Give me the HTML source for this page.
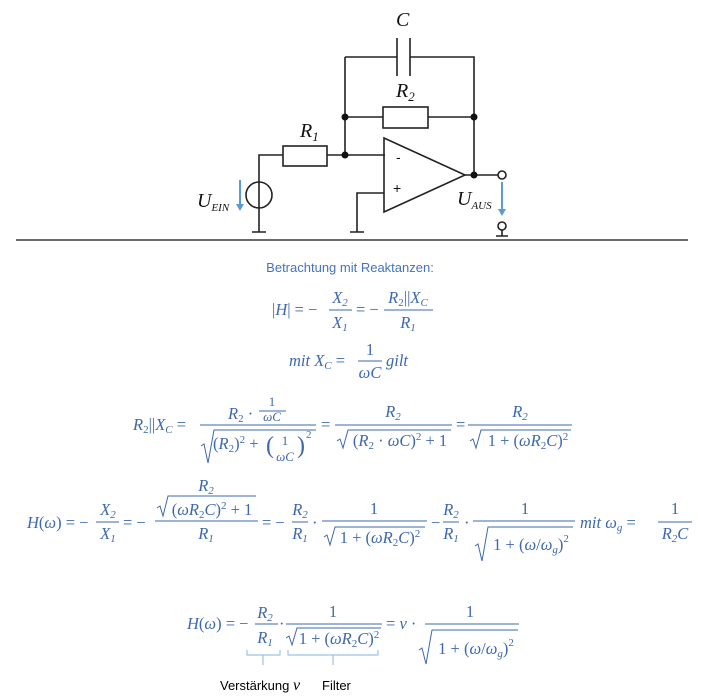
<!DOCTYPE html>
<html><head><meta charset="utf-8"><style>
html,body{margin:0;padding:0;background:#fff}
svg{display:block}
.m{font-family:"Liberation Serif",serif;font-size:16.5px;fill:#3e68ad}
.i{font-style:italic}
.s{font-size:11px}
.t{font-family:"Liberation Sans",sans-serif;font-size:13px;fill:#4472c4}
.k{font-family:"Liberation Sans",sans-serif;font-size:13px;fill:#000}
.w{stroke:#222;stroke-width:1.6;fill:none}
.b{stroke:#3e68ad;stroke-width:1;fill:none}
.br{stroke:#9dc3e6;stroke-width:1.2;fill:none}
</style></head><body>
<svg width="705" height="697" viewBox="0 0 705 697" xmlns="http://www.w3.org/2000/svg">
<!-- circuit -->
<g class="w">
<path d="M345 57H397M410 57H474V175M345 57V155"/>
<path d="M397 38V76M410 38V76"/>
<path d="M345 117H383M428 117H474"/>
<rect x="383" y="107" width="45" height="21"/>
<path d="M259 182V155H283M327 155H385"/>
<rect x="283" y="146" width="44" height="20"/>
<circle cx="259" cy="195" r="13"/>
<path d="M259 182V232M252 232H266"/>
<path d="M384 138L465 175L384 212Z"/>
<path d="M384 193H357V232M350 232H364"/>
<path d="M465 175H498"/>
<circle cx="502" cy="175" r="4"/>
<circle cx="502" cy="226" r="4"/>
<path d="M502 230V236M496 236H508"/>
</g>
<g fill="#111">
<circle cx="345" cy="117" r="3.5"/><circle cx="474" cy="117" r="3.5"/>
<circle cx="345" cy="155" r="3.5"/><circle cx="474" cy="175" r="3.5"/>
</g>
<g stroke="#5b9bd5" stroke-width="2" fill="#5b9bd5">
<path d="M240 180V206"/><path d="M236 204L240 211L244 204Z" stroke="none"/>
<path d="M502 182V211"/><path d="M498 209L502 216L506 209Z" stroke="none"/>
</g>
<g font-family="Liberation Serif,serif" font-style="italic" font-size="20" fill="#111">
<text x="396" y="26">C</text>
<text x="396" y="97">R<tspan font-size="13" dy="4">2</tspan></text>
<text x="300" y="137">R<tspan font-size="13" dy="4">1</tspan></text>
<text x="396" y="162" font-style="normal" font-family="Liberation Sans,sans-serif" font-size="14">-</text>
<text x="393" y="193" font-style="normal" font-family="Liberation Sans,sans-serif" font-size="14">+</text>
<text x="197" y="207">U<tspan font-size="11" dy="4">EIN</tspan></text>
<text x="457" y="205">U<tspan font-size="11" dy="4">AUS</tspan></text>
</g>
<path d="M16 240H688" stroke="#111" stroke-width="1.2"/>

<text class="t" x="350" y="272" text-anchor="middle">Betrachtung mit Reaktanzen:</text>

<!-- eq1 -->
<g class="m">
<text x="272" y="315">|<tspan class="i">H</tspan>| = −</text>
<text x="340" y="303" class="i" text-anchor="middle">X<tspan class="s" dy="3">2</tspan></text>
<text x="340" y="328" class="i" text-anchor="middle">X<tspan class="s" dy="3">1</tspan></text>
<text x="356" y="315">= −</text>
<text x="408" y="303" text-anchor="middle"><tspan class="i">R</tspan><tspan class="s" dy="3">2</tspan><tspan dy="-3">||</tspan><tspan class="i">X</tspan><tspan class="s i" dy="3">C</tspan></text>
<text x="408" y="328" class="i" text-anchor="middle">R<tspan class="s" dy="3">1</tspan></text>
</g>
<path class="b" d="M329 310H352M384 310H433"/>

<!-- eq2 -->
<g class="m">
<text x="289" y="366"><tspan class="i">mit X</tspan><tspan class="s i" dy="3">C</tspan><tspan dy="-3"> = </tspan></text>
<text x="370" y="355" text-anchor="middle">1</text>
<text x="370" y="378" class="i" text-anchor="middle">ωC</text>
<text x="386" y="366" class="i">gilt</text>
</g>
<path class="b" d="M358 361H382"/>

<!-- eq3 -->
<g class="m">
<text x="133" y="430"><tspan class="i">R</tspan><tspan class="s" dy="3">2</tspan><tspan dy="-3">||</tspan><tspan class="i">X</tspan><tspan class="s i" dy="3">C</tspan><tspan dy="-3"> =</tspan></text>
<text x="228" y="419"><tspan class="i">R</tspan><tspan class="s" dy="3">2</tspan><tspan dy="-3"> ·</tspan></text>
<text x="272" y="406" font-size="13" text-anchor="middle">1</text>
<text x="272" y="421" class="i" font-size="13" text-anchor="middle">ωC</text>
<text x="213" y="449">(<tspan class="i">R</tspan><tspan class="s" dy="3">2</tspan><tspan dy="-3">)</tspan><tspan class="s" dy="-6">2</tspan><tspan dy="6"> +</tspan></text>
<text x="266" y="453" font-size="24">(</text>
<text x="285" y="445" font-size="13" text-anchor="middle">1</text>
<text x="285" y="461" class="i" font-size="13" text-anchor="middle">ωC</text>
<text x="297" y="453" font-size="24">)</text>
<text x="306" y="438" class="s">2</text>
<text x="321" y="430">=</text>
<text x="393" y="417" class="i" text-anchor="middle">R<tspan class="s" dy="3">2</tspan></text>
<text x="400" y="446" text-anchor="middle">(<tspan class="i">R</tspan><tspan class="s" dy="3">2</tspan><tspan dy="-3"> · </tspan><tspan class="i">ωC</tspan>)<tspan class="s" dy="-6">2</tspan><tspan dy="6"> + 1</tspan></text>
<text x="456" y="430">=</text>
<text x="520" y="417" class="i" text-anchor="middle">R<tspan class="s" dy="3">2</tspan></text>
<text x="528" y="446" text-anchor="middle">1 + (<tspan class="i">ωR</tspan><tspan class="s" dy="3">2</tspan><tspan class="i" dy="-3">C</tspan>)<tspan class="s" dy="-6">2</tspan></text>
</g>
<path class="b" d="M200 425H316M259 411H286M335 425H452M468 425H572"/>
<path class="b" d="M201 446L204 444L208 463L214 430H316"/>
<path class="b" d="M337 441L340 439L343 448L348 430H451"/>
<path class="b" d="M470 441L473 439L476 448L481 430H571"/>

<!-- eq4 -->
<g class="m">
<text x="27" y="528"><tspan class="i">H</tspan>(<tspan class="i">ω</tspan>) = −</text>
<text x="108" y="515" class="i" text-anchor="middle">X<tspan class="s" dy="3">2</tspan></text>
<text x="108" y="539" class="i" text-anchor="middle">X<tspan class="s" dy="3">1</tspan></text>
<text x="123" y="528">= −</text>
<text x="206" y="491" class="i" text-anchor="middle">R<tspan class="s" dy="3">2</tspan></text>
<text x="212" y="515" text-anchor="middle">(<tspan class="i">ωR</tspan><tspan class="s" dy="3">2</tspan><tspan class="i" dy="-3">C</tspan>)<tspan class="s" dy="-6">2</tspan><tspan dy="6"> + 1</tspan></text>
<text x="206" y="539" class="i" text-anchor="middle">R<tspan class="s" dy="3">1</tspan></text>
<text x="262" y="528">= −</text>
<text x="300" y="515" class="i" text-anchor="middle">R<tspan class="s" dy="3">2</tspan></text>
<text x="300" y="539" class="i" text-anchor="middle">R<tspan class="s" dy="3">1</tspan></text>
<text x="312" y="528">·</text>
<text x="374" y="514" text-anchor="middle">1</text>
<text x="380" y="543" text-anchor="middle">1 + (<tspan class="i">ωR</tspan><tspan class="s" dy="3">2</tspan><tspan class="i" dy="-3">C</tspan>)<tspan class="s" dy="-6">2</tspan></text>
<text x="431" y="528">−</text>
<text x="451" y="515" class="i" text-anchor="middle">R<tspan class="s" dy="3">2</tspan></text>
<text x="451" y="539" class="i" text-anchor="middle">R<tspan class="s" dy="3">1</tspan></text>
<text x="464" y="528">·</text>
<text x="525" y="514" text-anchor="middle">1</text>
<text x="531" y="550" text-anchor="middle">1 + (<tspan class="i">ω</tspan>/<tspan class="i">ω</tspan><tspan class="s i" dy="3">g</tspan><tspan dy="-3">)</tspan><tspan class="s" dy="-8">2</tspan></text>
<text x="580" y="528" class="i">mit ω<tspan class="s" dy="3">g</tspan><tspan dy="-3" font-style="normal"> =</tspan></text>
<text x="675" y="514" text-anchor="middle">1</text>
<text x="675" y="539" class="i" text-anchor="middle">R<tspan class="s" dy="3">2</tspan><tspan dy="-3">C</tspan></text>
</g>
<path class="b" d="M96 522H119M155 521H258M292 522H308M322 521H427M443 522H459M473 521H575M658 522H692"/>
<path class="b" d="M157 508L160 506L163 516L168 496H256"/>
<path class="b" d="M324 537L327 535L330 545L335 527H425"/>
<path class="b" d="M475 546L478 544L482 561L488 527H573"/>

<!-- eq5 -->
<g class="m">
<text x="187" y="629"><tspan class="i">H</tspan>(<tspan class="i">ω</tspan>) = −</text>
<text x="265" y="618" class="i" text-anchor="middle">R<tspan class="s" dy="3">2</tspan></text>
<text x="265" y="643" class="i" text-anchor="middle">R<tspan class="s" dy="3">1</tspan></text>
<text x="279" y="629">·</text>
<text x="333" y="617" text-anchor="middle">1</text>
<text x="339" y="644" text-anchor="middle">1 + (<tspan class="i">ωR</tspan><tspan class="s" dy="3">2</tspan><tspan class="i" dy="-3">C</tspan>)<tspan class="s" dy="-6">2</tspan></text>
<text x="386" y="629">= <tspan class="i">v</tspan> ·</text>
<text x="470" y="617" text-anchor="middle">1</text>
<text x="476" y="654" text-anchor="middle">1 + (<tspan class="i">ω</tspan>/<tspan class="i">ω</tspan><tspan class="s i" dy="3">g</tspan><tspan dy="-3">)</tspan><tspan class="s" dy="-8">2</tspan></text>
</g>
<path class="b" d="M255 624H278M286 624H382M425 624H519"/>
<path class="b" d="M286 638L289 636L292 645L297 628H381"/>
<path class="b" d="M419 650L422 648L426 664L432 630H518"/>
<path class="br" d="M247 650V655H280V650M263 655V665M288 650V655H378V650M333 655V665"/>
<text class="k" x="220" y="690">Verstärkung <tspan font-family="Liberation Serif,serif" font-style="italic" font-size="16">v</tspan></text>
<text class="k" x="322" y="690">Filter</text>
</svg>
</body></html>
